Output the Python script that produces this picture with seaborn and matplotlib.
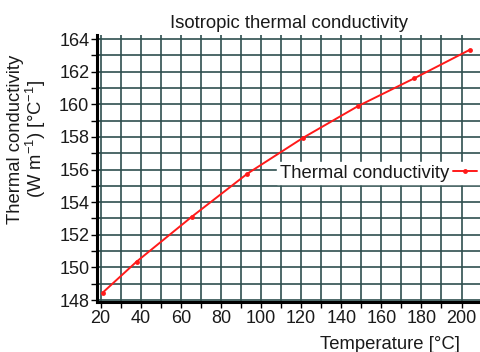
import matplotlib
matplotlib.use("Agg")
import matplotlib.pyplot as plt
from matplotlib.ticker import MultipleLocator
import seaborn as sns
import pandas as pd

# Temperature [°C] and isotropic thermal conductivity values
temperature = [21.0, 37.9, 65.4, 93.2, 121.0, 148.5, 176.5, 204.2]
conductivity = [148.45, 150.35, 153.1, 155.75, 157.95, 159.9, 161.6, 163.35]
series_name = "Thermal conductivity"

df = pd.DataFrame({"Temperature": temperature, "Conductivity": conductivity})

sns.set_theme(style="white")
plt.rcParams["font.family"] = ["Liberation Sans", "DejaVu Sans"]
plt.rcParams["mathtext.fontset"] = "custom"
plt.rcParams["mathtext.rm"] = "Liberation Sans"
plt.rcParams["mathtext.it"] = "Liberation Sans"

fig = plt.figure(figsize=(4.81, 3.52), dpi=100)
ax = fig.add_axes([97 / 481, 50 / 352, 383 / 481, 267 / 352])

sns.lineplot(data=df, x="Temperature", y="Conductivity", ax=ax,
             color="#ff1a1a", linewidth=1.4, marker="o", markersize=3.5,
             markeredgewidth=0, label=series_name)

ax.set_xlim(18.2, 209.2)
ax.set_ylim(147.88, 164.25)

ax.xaxis.set_major_locator(MultipleLocator(20))
ax.xaxis.set_minor_locator(MultipleLocator(10))
ax.yaxis.set_major_locator(MultipleLocator(2))
ax.yaxis.set_minor_locator(MultipleLocator(1))

grid_color = "#2f4f4f"
ax.grid(True, which="both", color=grid_color, linewidth=1.2)
ax.set_axisbelow(True)

for side in ("top", "right"):
    ax.spines[side].set_visible(False)
for side in ("left", "bottom"):
    ax.spines[side].set_color("black")
    ax.spines[side].set_linewidth(2.2)

ax.tick_params(axis="both", which="both", direction="out", color="black",
               width=1.0, labelsize=13, labelcolor="#1a1a1a", pad=1.5)
ax.tick_params(axis="both", which="major", length=4, left=True, bottom=True)
ax.tick_params(axis="both", which="minor", length=4, left=True, bottom=True)

label_size = 13.3
ax.set_title("Isotropic thermal conductivity", fontsize=label_size, color="#1a1a1a", pad=5)

ax.set_xlabel("Temperature [°C]", fontsize=label_size, color="#1a1a1a")
ax.xaxis.set_label_coords(0.948, -0.128)
ax.xaxis.label.set_ha("right")

ax.set_ylabel("Thermal conductivity\n(W m$^{-1}$) [°C$^{-1}$]", fontsize=label_size,
              color="#1a1a1a", linespacing=1.0)
ax.yaxis.set_label_coords(-0.127, 0.61)

leg = ax.legend(loc="center right", bbox_to_anchor=(1.0, 0.483), markerfirst=False,
                frameon=True, framealpha=1.0, edgecolor="white", facecolor="white",
                fontsize=label_size, handlelength=1.3, handletextpad=0.2, borderpad=0.15,
                borderaxespad=0.0, fancybox=False)
for t in leg.get_texts():
    t.set_color("#1a1a1a")

fig.savefig("out.png", dpi=100, facecolor="white")
